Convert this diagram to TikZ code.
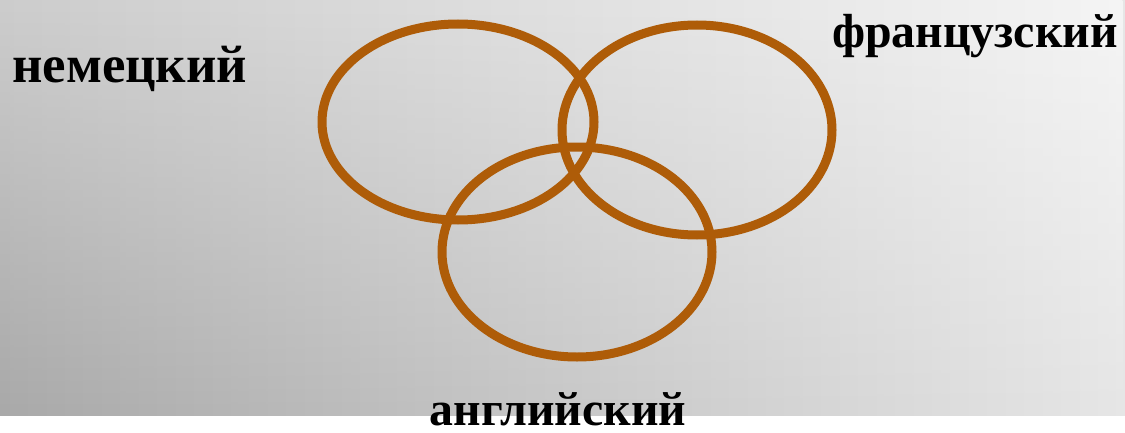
\documentclass[tikz,border=0pt]{standalone}
\usepackage{fontspec}
\setmainfont{Liberation Serif}
\usetikzlibrary{fadings}
\definecolor{ring}{RGB}{174,92,8}
\definecolor{bgBL}{RGB}{169,169,169}
\definecolor{bgBM}{RGB}{222,222,222}
\definecolor{bgBR}{RGB}{230,230,230}
\definecolor{bgTL}{RGB}{205,205,205}
\definecolor{bgTM}{RGB}{238,238,238}
\definecolor{bgTR}{RGB}{245,245,245}
\tikzset{
  ringline/.style={draw=ring, line width=9bp},
  lang/.style={inner sep=0pt, text=black}
}
\begin{document}
\begin{tikzpicture}[x=1bp,y=1bp]
\useasboundingbox (0,0) rectangle (1125,432);
\fill[white] (0,0) rectangle (1125,432);
\shade[left color=bgBL, middle color=bgBM, right color=bgBR] (0,17) rectangle (1125,432);
\shade[left color=bgTL, middle color=bgTM, right color=bgTR, path fading=south] (0,17) rectangle (1125,432);
\draw[ringline] (458,310) ellipse [x radius=136, y radius=98];
\draw[ringline] (697,302) ellipse [x radius=135, y radius=105];
\draw[ringline] (577,180) ellipse [x radius=135, y radius=105];
\node[lang, anchor=base west, font=\fontsize{53}{60}\selectfont\bfseries] (de) at (12,350) {немецкий};
\node[lang, anchor=base east, font=\fontsize{48}{56}\selectfont\bfseries] (fr) at (1118,385) {французский};
\node[lang, anchor=base, font=\fontsize{48}{56}\selectfont\bfseries] (en) at (558,7) {английский};
\end{tikzpicture}
\end{document}
